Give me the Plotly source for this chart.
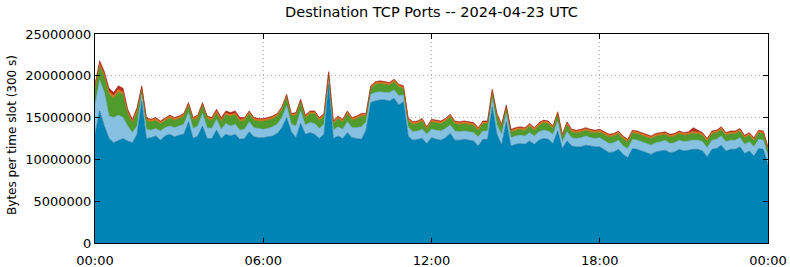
import pandas as pd
import plotly.graph_objects as go

# 10-minute slots, 2024-04-23 00:00 .. 2024-04-24 00:00 (values in millions of bytes)
times = pd.date_range("2024-04-23 00:00", periods=145, freq="10min")

blue = [
    13.0, 15.8, 14.0, 12.5, 12.0, 12.3, 12.5, 12.2, 12.0, 13.0, 17.0, 12.5,
    12.6, 12.8, 12.3, 12.8, 13.0, 12.7, 12.9, 13.0, 14.5, 12.5, 12.8, 14.0,
    12.5, 12.5, 13.5, 12.5, 13.0, 12.8, 13.0, 12.4, 12.5, 13.3, 12.7, 12.6,
    12.6, 12.7, 12.8, 13.1, 13.8, 15.0, 13.3, 12.6, 14.3, 13.0, 13.2, 13.0,
    12.5, 13.0, 19.0, 12.5, 12.8, 12.5, 13.2, 12.6, 12.5, 12.4, 13.5, 16.8,
    17.0, 17.1, 17.1, 17.0, 17.3, 16.5, 16.9, 12.8, 12.3, 12.4, 12.5, 11.9,
    12.6, 12.4, 12.3, 12.6, 13.1, 12.3, 12.3, 12.4, 12.3, 12.2, 11.6, 12.4,
    12.4, 16.3, 13.0, 11.7, 14.5, 11.6, 11.8, 11.9, 11.8, 12.2, 11.8, 12.3,
    12.5, 12.4, 11.9, 13.4, 11.3, 12.2, 11.6, 11.5, 11.5, 11.7, 11.6, 11.5,
    11.5, 11.1, 10.8, 10.9, 11.2, 10.6, 10.2, 11.3, 11.2, 11.0, 10.8, 10.6,
    10.9, 11.0, 11.1, 10.8, 10.9, 11.2, 11.0, 11.1, 11.2, 11.2, 11.0, 10.3,
    11.2, 11.3, 11.7, 11.0, 11.2, 11.2, 11.5, 10.7, 11.0, 10.4, 11.3, 11.2,
    9.3,
]

light_blue = [
    3.5, 3.7, 4.0, 2.7, 3.0, 3.0, 2.5, 1.8, 1.2, 1.0, 0.8, 1.1,
    0.9, 0.9, 1.1, 1.0, 1.0, 1.1, 1.1, 1.2, 1.1, 1.2, 1.2, 1.5,
    1.3, 1.2, 1.3, 1.1, 1.3, 1.2, 1.2, 1.1, 1.1, 1.2, 1.1, 1.1,
    1.0, 1.0, 1.1, 1.1, 1.2, 1.4, 0.9, 1.4, 1.5, 1.1, 1.2, 1.3,
    1.2, 1.2, 0.8, 1.0, 1.1, 1.1, 1.3, 1.2, 1.3, 1.5, 1.0, 1.0,
    1.0, 1.0, 0.9, 1.0, 1.0, 1.1, 0.8, 1.1, 1.0, 1.0, 1.1, 1.1,
    1.0, 1.1, 1.1, 1.1, 1.0, 1.1, 1.0, 1.0, 1.0, 1.0, 1.1, 1.0,
    1.0, 1.0, 1.1, 1.3, 1.0, 1.0, 1.0, 1.0, 1.0, 1.0, 1.0, 1.0,
    1.0, 1.0, 1.1, 1.2, 0.8, 1.1, 1.0, 1.0, 1.1, 1.1, 1.0, 1.0,
    1.1, 1.1, 1.1, 1.1, 1.1, 1.0, 1.1, 1.1, 1.1, 1.1, 1.1, 1.1,
    1.1, 1.1, 1.2, 1.1, 1.1, 1.1, 1.1, 1.1, 1.1, 1.1, 1.1, 1.1,
    1.1, 1.1, 1.1, 1.1, 1.1, 1.1, 1.1, 1.1, 1.1, 1.1, 1.1, 1.1,
    1.2,
]

green = [
    1.90, 1.65, 1.85, 2.60, 2.30, 2.75, 2.75, 1.40, 1.15, 1.60, 0.60, 1.06,
    0.96, 0.96, 0.86, 0.86, 0.96, 0.86, 0.86, 0.96, 0.86, 0.96, 0.96, 0.96,
    1.06, 0.96, 0.73, 0.93, 1.03, 1.13, 1.13, 1.03, 1.06, 0.96, 0.86, 0.86,
    0.96, 0.96, 0.96, 0.96, 0.96, 1.06, 0.96, 1.26, 1.06, 0.86, 1.06, 1.16,
    0.96, 0.96, 0.36, 0.76, 0.96, 0.86, 0.96, 0.86, 1.06, 1.26, 0.66, 0.66,
    0.96, 0.96, 0.96, 0.86, 0.96, 1.06, 0.76, 0.76, 0.86, 0.86, 0.96, 0.56,
    0.86, 0.86, 0.86, 0.86, 0.96, 0.86, 0.86, 0.86, 0.86, 0.86, 0.76, 0.86,
    0.86, 0.76, 1.06, 0.86, 0.66, 0.66, 0.66, 0.66, 0.66, 0.76, 0.66, 0.76,
    0.86, 0.86, 0.66, 0.76, 0.56, 0.86, 0.66, 0.66, 0.66, 0.66, 0.66, 0.66,
    0.66, 0.76, 0.76, 0.76, 0.76, 0.86, 0.76, 0.76, 0.76, 0.76, 0.76, 0.76,
    0.76, 0.76, 0.66, 0.76, 0.76, 0.76, 0.76, 0.76, 0.83, 0.73, 0.76, 0.76,
    0.76, 0.76, 0.76, 0.76, 0.76, 0.76, 0.76, 0.76, 0.76, 0.76, 0.76, 0.76,
    0.66,
]

orange = [
    0.30, 0.30, 0.30, 0.30, 0.30, 0.30, 0.30, 0.30, 0.25, 0.30, 0.25, 0.22,
    0.22, 0.22, 0.22, 0.22, 0.22, 0.22, 0.22, 0.22, 0.22, 0.22, 0.22, 0.22,
    0.22, 0.22, 0.22, 0.22, 0.22, 0.22, 0.22, 0.22, 0.22, 0.22, 0.22, 0.22,
    0.22, 0.22, 0.22, 0.22, 0.22, 0.22, 0.22, 0.22, 0.22, 0.22, 0.22, 0.22,
    0.22, 0.22, 0.22, 0.22, 0.22, 0.22, 0.22, 0.22, 0.22, 0.22, 0.22, 0.22,
    0.22, 0.22, 0.22, 0.22, 0.22, 0.22, 0.22, 0.22, 0.22, 0.22, 0.22, 0.22,
    0.22, 0.22, 0.22, 0.22, 0.22, 0.22, 0.22, 0.22, 0.22, 0.22, 0.22, 0.22,
    0.22, 0.22, 0.22, 0.22, 0.22, 0.22, 0.22, 0.22, 0.22, 0.22, 0.22, 0.22,
    0.22, 0.22, 0.22, 0.22, 0.22, 0.22, 0.22, 0.22, 0.22, 0.22, 0.22, 0.22,
    0.22, 0.22, 0.22, 0.22, 0.22, 0.22, 0.22, 0.22, 0.22, 0.22, 0.22, 0.22,
    0.22, 0.22, 0.22, 0.22, 0.22, 0.22, 0.22, 0.22, 0.22, 0.22, 0.22, 0.22,
    0.22, 0.22, 0.22, 0.22, 0.22, 0.22, 0.22, 0.22, 0.22, 0.22, 0.22, 0.22,
    0.22,
]

red = [
    0.30, 0.35, 0.35, 0.40, 0.40, 0.45, 0.45, 0.30, 0.20, 0.30, 0.15, 0.12,
    0.12, 0.12, 0.12, 0.12, 0.12, 0.12, 0.12, 0.12, 0.12, 0.12, 0.12, 0.12,
    0.12, 0.12, 0.25, 0.25, 0.25, 0.25, 0.25, 0.25, 0.12, 0.12, 0.12, 0.12,
    0.12, 0.12, 0.12, 0.12, 0.12, 0.12, 0.12, 0.12, 0.12, 0.12, 0.12, 0.12,
    0.12, 0.12, 0.12, 0.12, 0.12, 0.12, 0.12, 0.12, 0.12, 0.12, 0.12, 0.12,
    0.12, 0.12, 0.12, 0.12, 0.12, 0.12, 0.12, 0.12, 0.12, 0.12, 0.12, 0.12,
    0.12, 0.12, 0.12, 0.12, 0.12, 0.12, 0.12, 0.12, 0.12, 0.12, 0.12, 0.12,
    0.12, 0.12, 0.12, 0.12, 0.12, 0.12, 0.12, 0.12, 0.12, 0.12, 0.12, 0.12,
    0.12, 0.12, 0.12, 0.12, 0.12, 0.12, 0.12, 0.12, 0.12, 0.12, 0.12, 0.12,
    0.12, 0.12, 0.12, 0.12, 0.12, 0.12, 0.12, 0.12, 0.12, 0.12, 0.12, 0.12,
    0.12, 0.12, 0.12, 0.12, 0.12, 0.12, 0.12, 0.12, 0.45, 0.25, 0.12, 0.12,
    0.12, 0.12, 0.12, 0.12, 0.12, 0.12, 0.12, 0.12, 0.12, 0.12, 0.12, 0.12,
    0.12,
]

series = [
    ("blue", blue, "#0083b5", "#0a6e98"),
    ("light blue", light_blue, "#87c1e2", "#6aa9cc"),
    ("green", green, "#4f9c2c", "#3d8424"),
    ("orange", orange, "#d97a1c", "#c96a12"),
    ("red", red, "#b52b1c", "#9e2216"),
]

x_ticks = ["2024-04-23 00:00", "2024-04-23 06:00", "2024-04-23 12:00",
           "2024-04-23 18:00", "2024-04-24 00:00"]
x_tick_labels = ["00:00", "06:00", "12:00", "18:00", "00:00"]
y_ticks = [0, 5000000, 10000000, 15000000, 20000000, 25000000]

fig = go.Figure()
for name, vals, fill, line in series:
    fig.add_trace(go.Scatter(
        x=times, y=[v * 1e6 for v in vals], name=name,
        mode="lines", stackgroup="one",
        line=dict(color=line, width=0.6),
        fillcolor=fill, hoverinfo="x+y",
    ))

axis_common = dict(
    showline=True, linecolor="black", linewidth=1, mirror="ticks",
    ticks="inside", ticklen=5, tickcolor="black", tickwidth=1,
    showgrid=True, gridcolor="#b0b0b0", griddash="1px,3px", gridwidth=1,
    zeroline=False, automargin=False,
    tickfont=dict(family="DejaVu Sans", size=13, color="black"),
)

fig.update_layout(
    width=790, height=267,
    margin=dict(l=95, r=22, t=34, b=24),
    paper_bgcolor="white", plot_bgcolor="white",
    showlegend=False,
    font=dict(family="DejaVu Sans", color="black"),
    title=dict(text="Destination TCP Ports -- 2024-04-23 UTC",
               x=0.5, xref="paper", xanchor="center",
               y=1 - 12 / 267, yref="container", yanchor="middle",
               font=dict(family="DejaVu Sans", size=14.5, color="black")),
    xaxis=dict(range=["2024-04-23 00:00", "2024-04-24 00:00"],
               tickvals=x_ticks, ticktext=x_tick_labels,
               ticklabelstandoff=5, **axis_common),
    yaxis=dict(range=[0, 25000000], tickvals=y_ticks,
               ticktext=[str(v) for v in y_ticks], **axis_common),
    annotations=[dict(text="Bytes per time slot (300 s)", textangle=-90,
                      xref="paper", yref="paper", x=(12 - 95) / 673, y=0.517,
                      xanchor="center", yanchor="middle", showarrow=False,
                      font=dict(family="DejaVu Sans", size=12, color="black"))],
)

fig.write_html("out.html")
